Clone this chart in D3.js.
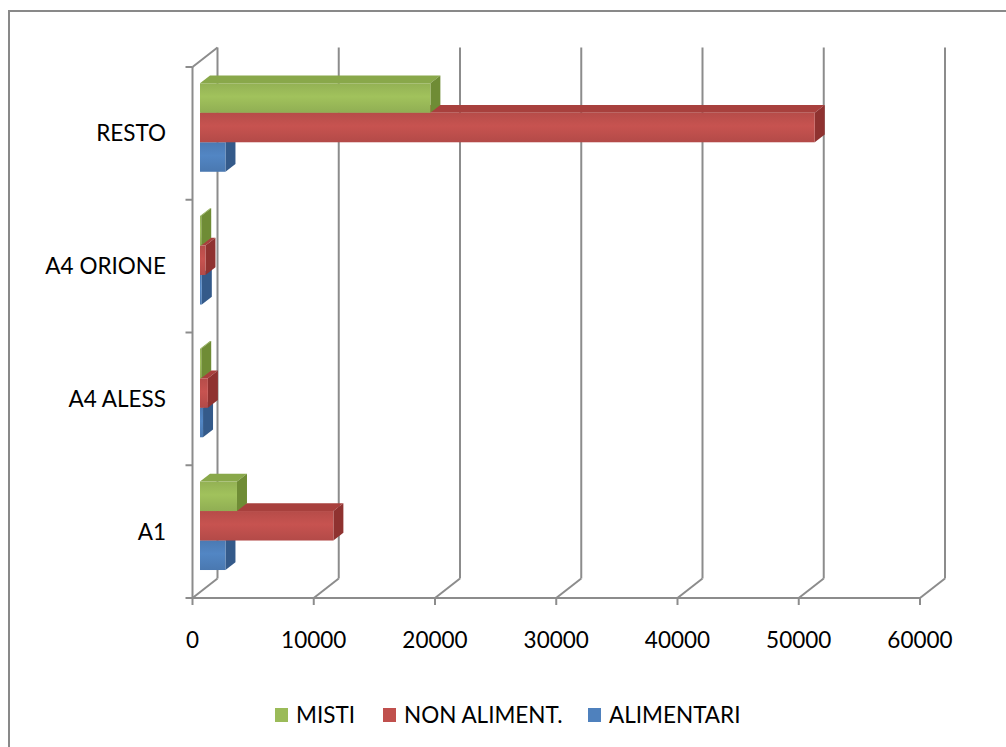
<!DOCTYPE html>
<html>
<head>
<meta charset="utf-8">
<script src="https://cdn.jsdelivr.net/npm/d3@7"></script>
<style>
  html, body { margin: 0; padding: 0; background: #fff; }
  svg { display: block; }
  text { font-family: Lato, "Open Sans", sans-serif; fill: #000; }
</style>
</head>
<body>
<svg id="chart" width="1006" height="747"></svg>
<script>
// Categories, top to bottom as shown on the axis
const categories = ["RESTO", "A4 ORIONE", "A4 ALESS", "A1"];
// Series names (legend order)
const seriesNames = ["MISTI", "NON ALIMENT.", "ALIMENTARI"];
// Values per series, aligned with categories
const misti      = [19000, 100, 100, 3050];
const nonAliment = [50700, 450, 650, 11000];
const alimentari = [2100, 150, 250, 2100];
// Axis ticks
const xTicks = [0, 10000, 20000, 30000, 40000, 50000, 60000];

const seriesValues = [misti, nonAliment, alimentari];
const seriesColors = {
  "MISTI":        { front: "#9BBB59", top: "#89a84a", side: "#6f8c35" },
  "NON ALIMENT.": { front: "#C0504D", top: "#a8403d", side: "#8f3230" },
  "ALIMENTARI":   { front: "#4F81BD", top: "#426fa6", side: "#345a8a" }
};

const svg = d3.select("#chart");

// Chart area frame
svg.append("rect")
  .attr("x", 9).attr("y", 11)
  .attr("width", 1020).attr("height", 760)
  .attr("fill", "#fff").attr("stroke", "#898989").attr("stroke-width", 2);

// Plot geometry (front plane) and depth offset of the 3D box
const x = d3.scaleLinear().domain([0, 60000]).range([192.5, 920]);
const y = d3.scaleBand().domain(categories).range([67, 598]);
const DX = 25, DY = -19.5;
const inner = d3.scaleBand().domain(seriesNames)
  .range([0, y.bandwidth()]).paddingInner(0).paddingOuter(0.75);
const z0 = 0.3, z1 = 0.7; // bar depth within the box

const grid = svg.append("g")
  .attr("stroke", "#8c8c8c").attr("stroke-width", 2).attr("fill", "none");

// Back wall vertical gridlines
xTicks.forEach(t => {
  grid.append("line")
    .attr("x1", x(t) + DX).attr("x2", x(t) + DX)
    .attr("y1", y.range()[0] + DY).attr("y2", y.range()[1] + DY);
  // floor diagonals
  grid.append("line")
    .attr("x1", x(t)).attr("y1", y.range()[1])
    .attr("x2", x(t) + DX).attr("y2", y.range()[1] + DY);
  // tick marks below floor
  grid.append("line")
    .attr("x1", x(t)).attr("x2", x(t))
    .attr("y1", y.range()[1]).attr("y2", y.range()[1] + 7);
});
// Floor front edge
grid.append("line")
  .attr("x1", x(0)).attr("x2", x(60000))
  .attr("y1", y.range()[1]).attr("y2", y.range()[1]);
// Left wall front edge and top diagonal
grid.append("line")
  .attr("x1", x(0)).attr("x2", x(0))
  .attr("y1", y.range()[0]).attr("y2", y.range()[1]);
grid.append("line")
  .attr("x1", x(0)).attr("y1", y.range()[0])
  .attr("x2", x(0) + DX).attr("y2", y.range()[0] + DY);
// Category tick marks
const bounds = categories.map(c => y(c)).concat([y.range()[1]]);
bounds.forEach(b => {
  grid.append("line")
    .attr("x1", x(0) - 7).attr("x2", x(0))
    .attr("y1", b).attr("y2", b);
});

// Front-face gradient per series
const defs = svg.append("defs");
seriesNames.forEach((s, i) => {
  const g = defs.append("linearGradient")
    .attr("id", "grad" + i).attr("x1", 0).attr("y1", 0).attr("x2", 0).attr("y2", 1);
  const c = d3.color(seriesColors[s].front);
  g.append("stop").attr("offset", "0%").attr("stop-color", c.darker(0.15));
  g.append("stop").attr("offset", "45%").attr("stop-color", c.brighter(0.1));
  g.append("stop").attr("offset", "100%").attr("stop-color", c.darker(0.2));
});

// 3D bars: draw lower series first so upper ones overlap their top faces
const bars = svg.append("g");
const drawOrder = [2, 1, 0];
categories.forEach((cat, ci) => {
  drawOrder.forEach(si => {
    const s = seriesNames[si];
    const v = seriesValues[si][ci];
    const ax = DX * z0, ay = DY * z0, bx = DX * z1, by = DY * z1;
    const xl = x(0), xr = x(v);
    const yt = y(cat) + inner(s), yb = yt + inner.bandwidth();
    const col = seriesColors[s];
    const g = bars.append("g");
    // top face
    g.append("polygon")
      .attr("points", [[xl + ax, yt + ay], [xr + ax, yt + ay], [xr + bx, yt + by], [xl + bx, yt + by]].join(" "))
      .attr("fill", col.top);
    // right side face
    g.append("polygon")
      .attr("points", [[xr + ax, yt + ay], [xr + bx, yt + by], [xr + bx, yb + by], [xr + ax, yb + ay]].join(" "))
      .attr("fill", col.side);
    // front face
    g.append("rect")
      .attr("x", xl + ax).attr("y", yt + ay)
      .attr("width", Math.max(0, xr - xl)).attr("height", yb - yt)
      .attr("fill", "url(#grad" + si + ")");
  });
});

// X tick labels
svg.append("g").selectAll("text").data(xTicks).join("text")
  .attr("x", d => x(d)).attr("y", 648)
  .attr("text-anchor", "middle")
  .attr("font-size", 22.5)
  .text(d => d);

// Category labels
svg.append("g").selectAll("text").data(categories).join("text")
  .attr("x", 166).attr("y", d => y(d) + y.bandwidth() / 2 + 8)
  .attr("text-anchor", "end")
  .attr("font-size", 22.5)
  .text(d => d);

// Legend
const legendX = [275, 383, 588];
const legend = svg.append("g");
seriesNames.forEach((s, i) => {
  legend.append("rect")
    .attr("x", legendX[i]).attr("y", 708)
    .attr("width", 13).attr("height", 14)
    .attr("fill", seriesColors[s].front);
  legend.append("text")
    .attr("x", legendX[i] + 21).attr("y", 723)
    .attr("font-size", 22.5)
    .text(s);
});
</script>
</body>
</html>
